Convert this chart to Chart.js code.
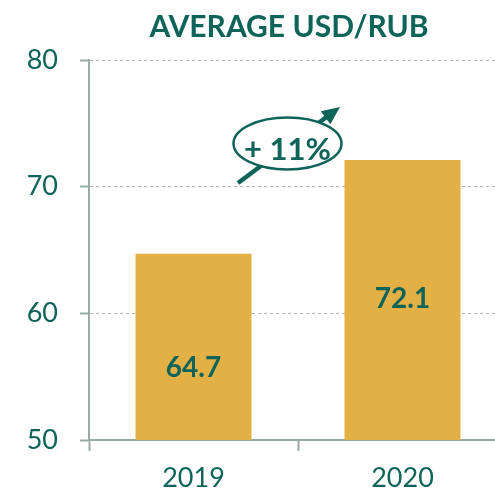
<!DOCTYPE html>
<html>
<head>
<meta charset="utf-8">
<script src="https://cdn.jsdelivr.net/npm/chart.js@4.4.1/dist/chart.umd.min.js"></script>
<style>
  html, body { margin: 0; padding: 0; background: #fff; overflow: hidden; }
  /* plot runs a little past the right edge, like the original */
  #wrap { width: 507px; height: 494px; }
</style>
</head>
<body>
<div id="wrap"><canvas id="myChart"></canvas></div>
<script>
// data
const years = ['2019', '2020'];
const usdRub = [64.7, 72.1];
const yTicks = [50, 60, 70, 80];
const growthLabel = '+ 11%';
const chartTitle = 'AVERAGE USD/RUB';

const TEAL = '#0f6459';
const GOLD = '#E3B045';
const AXIS = '#9aaba8';
const FONT = 'Lato, "Open Sans", sans-serif';

// title, values on bars and the +11% bubble
const extras = {
  id: 'extras',
  afterDraw(chart) {
    const ctx = chart.ctx;
    const xs = chart.scales.x, ys = chart.scales.y;
    ctx.save();

    // title
    ctx.fillStyle = TEAL;
    ctx.font = 'bold 30px ' + FONT;
    ctx.textAlign = 'center';
    ctx.textBaseline = 'alphabetic';
    ctx.fillText(chartTitle, 289, 37);

    // values inside bars
    const shift = [30, 8];
    ctx.font = 'bold 28px ' + FONT;
    usdRub.forEach((v, i) => {
      const top = ys.getPixelForValue(v);
      const base = ys.getPixelForValue(ys.min);
      const x = xs.getPixelForValue(i);
      ctx.fillText(v.toFixed(1), x, (top + base) / 2 + shift[i]);
    });

    // arrow
    const x1 = 238, y1 = 183, tx = 340, ty = 107;
    const dx = tx - x1, dy = ty - y1, len = Math.hypot(dx, dy);
    const ux = dx / len, uy = dy / len;
    const bx = tx - ux * 18, by = ty - uy * 18;
    ctx.strokeStyle = TEAL;
    ctx.lineWidth = 4.5;
    ctx.beginPath();
    ctx.moveTo(x1, y1);
    ctx.lineTo(bx + ux * 2, by + uy * 2);
    ctx.stroke();
    ctx.beginPath();
    ctx.moveTo(tx, ty);
    ctx.lineTo(bx - uy * 8, by + ux * 8);
    ctx.lineTo(bx + uy * 8, by - ux * 8);
    ctx.closePath();
    ctx.fillStyle = TEAL;
    ctx.fill();

    // ellipse
    ctx.beginPath();
    ctx.ellipse(287.5, 143.5, 54, 26, 0, 0, Math.PI * 2);
    ctx.fillStyle = '#fff';
    ctx.fill();
    ctx.lineWidth = 2.5;
    ctx.stroke();

    ctx.fillStyle = TEAL;
    ctx.font = 'bold 31px ' + FONT;
    ctx.fillText(growthLabel, 287.5, 160);
    ctx.restore();
  }
};

var chartArea = document.getElementById('myChart').getContext('2d');
var myChart = new Chart(chartArea, {
  type: 'bar',
  data: {
    labels: years,
    datasets: [{
      data: usdRub,
      backgroundColor: GOLD,
      borderWidth: 0,
      barPercentage: 1,
      categoryPercentage: 0.555
    }]
  },
  options: {
    responsive: true,
    maintainAspectRatio: false,
    animation: false,
    layout: { padding: { top: 60, left: 0, right: 0, bottom: 0 } },
    plugins: {
      legend: { display: false },
      tooltip: { enabled: false }
    },
    scales: {
      x: {
        offset: true,
        afterFit: (scale) => { scale.height = 54; },
        grid: {
          offset: true,
          drawOnChartArea: false,
          drawTicks: true,
          tickLength: 11,
          tickColor: AXIS,
          tickWidth: 2
        },
        border: { color: AXIS, width: 2 },
        ticks: {
          color: TEAL,
          font: { family: FONT, size: 27, lineHeight: 1 },
          padding: 14
        }
      },
      y: {
        min: 50,
        max: 80,
        afterFit: (scale) => { scale.width = 89; },
        afterBuildTicks: (scale) => { scale.ticks = yTicks.map(v => ({ value: v })); },
        grid: {
          color: '#b5b5b5',
          lineWidth: 1,
          drawTicks: true,
          tickLength: 9,
          tickColor: AXIS,
          tickWidth: 2,
          tickBorderDash: []
        },
        border: { color: AXIS, width: 2, dash: [3, 3] },
        ticks: {
          color: TEAL,
          font: { family: FONT, size: 27 },
          padding: 22
        }
      }
    }
  },
  plugins: [extras]
});
</script>
</body>
</html>
